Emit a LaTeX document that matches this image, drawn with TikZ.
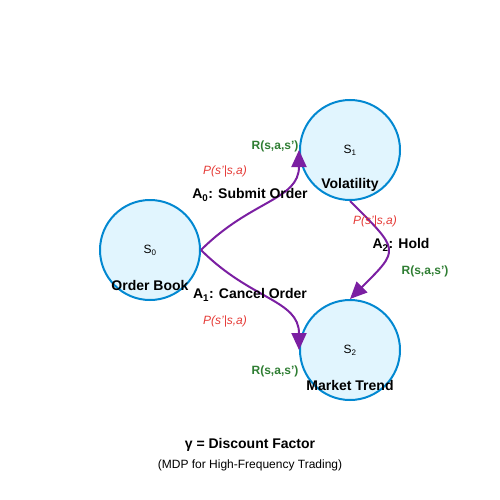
\documentclass[tikz,border=0pt]{standalone}
\usepackage{fontspec}
\setmainfont{Liberation Sans}
\usetikzlibrary{positioning, arrows.meta}

\definecolor{statefill}{HTML}{E1F5FE}
\definecolor{stateline}{HTML}{0288D1}
\definecolor{actcol}{HTML}{7B1FA2}
\definecolor{probcol}{HTML}{E53935}
\definecolor{rewcol}{HTML}{2E7D32}

\begin{document}
\begin{tikzpicture}[x=1pt, y=-1pt,
  state/.style={circle, draw=stateline, fill=statefill, line width=2pt, minimum size=100pt, inner sep=0pt, font=\fontsize{12}{14}\selectfont},
  title/.style={font=\fontsize{14}{16}\selectfont\bfseries, inner sep=1pt},
  action/.style={font=\fontsize{14}{16}\selectfont\bfseries, inner sep=1pt},
  prob/.style={font=\fontsize{12}{14}\selectfont\itshape, text=probcol, inner sep=1pt},
  reward/.style={font=\fontsize{12}{14}\selectfont\bfseries, text=rewcol, inner sep=1pt},
  flow/.style={draw=actcol, line width=2pt, -{Triangle[length=17pt, width=15pt, fill=actcol]}}
]
\useasboundingbox (0,0) rectangle (500,500);

% States
\node[state] (ob) at (150,250) {S\textsubscript{0}};
\node[state] (vol) at (350,150) {S\textsubscript{1}};
\node[state] (mt) at (350,350) {S\textsubscript{2}};
\node[title] (oblabel) at (150,285) {Order Book};
\node[title] (vollabel) at (350,185) {Volatility};
\node[title] (mtlabel) at (350,385) {Market Trend};

% Transitions
\draw[flow] (ob.east) .. controls +(50,-50) and +(0,50) .. (vol.west);
\draw[flow] (ob.east) .. controls +(50,50) and +(0,-50) .. (mt.west);
\draw[flow] (vol.south) .. controls +(50,50) and +(50,-50) .. (mt.north);

% Action labels
\node[action] (asubmit) at (250,195) {A\textsubscript{0}: Submit Order};
\node[prob] (psubmit) at (225,171) {P(s'|s,a)};
\node[reward] (rsubmit) at (275,146) {R(s,a,s')};

\node[action] (acancel) at (250,295) {A\textsubscript{1}: Cancel Order};
\node[prob] (pcancel) at (225,321) {P(s'|s,a)};
\node[reward] (rcancel) at (275,371) {R(s,a,s')};

\node[action] (ahold) at (401,245) {A\textsubscript{2}: Hold};
\node[prob] (phold) at (375,221) {P(s'|s,a)};
\node[reward] (rhold) at (425,271) {R(s,a,s')};

% Legend
\node[title] (gamma) at (250,445) {γ = Discount Factor};
\node[font=\fontsize{12}{14}\selectfont, inner sep=1pt, below=6pt of gamma] (caption) {(MDP for High-Frequency Trading)};
\end{tikzpicture}
\end{document}
